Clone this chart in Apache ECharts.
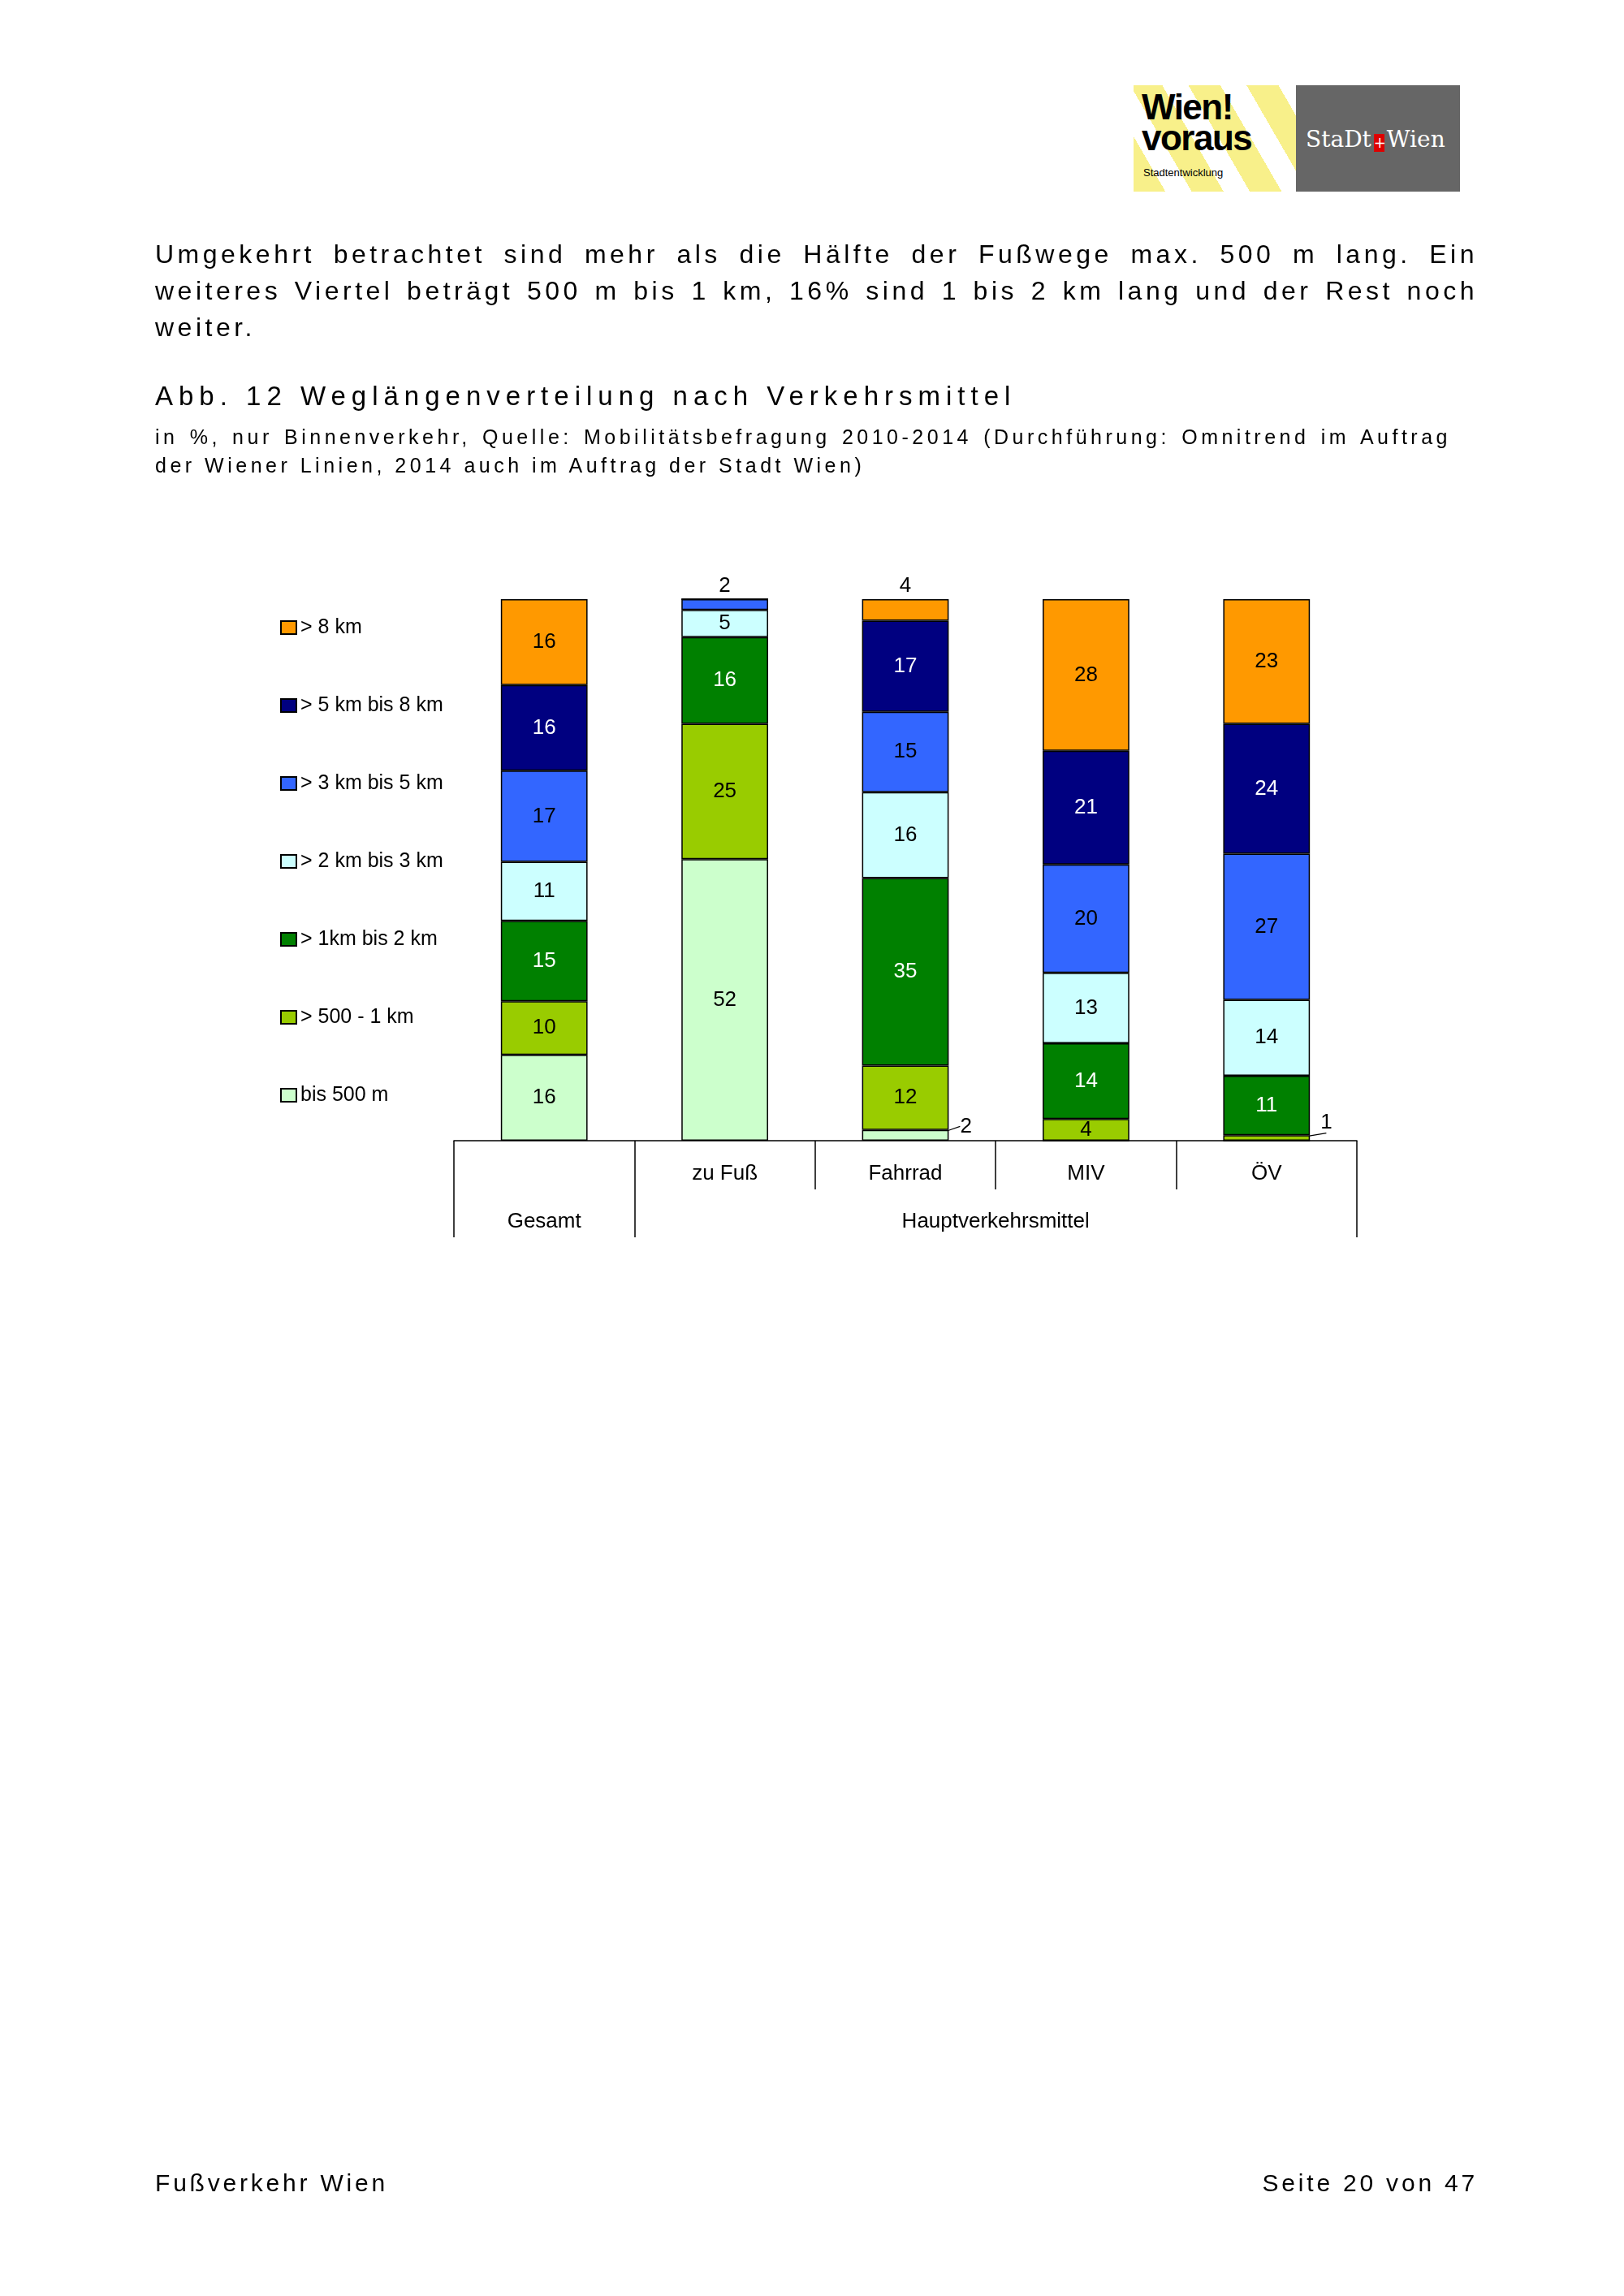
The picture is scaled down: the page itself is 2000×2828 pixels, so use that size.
<!DOCTYPE html>
<html lang="de">
<head>
<meta charset="UTF-8">
<title>Abb. 12 Weglängenverteilung nach Verkehrsmittel</title>
<script src="https://cdn.jsdelivr.net/npm/echarts@6/dist/echarts.min.js"></script>
<style>
  body { margin:0; background:#fff; }
  #page { position:relative; width:2000px; height:2828px; overflow:hidden; font-family:'Liberation Sans', Arial, sans-serif; color:#000; }
  #chart { position:absolute; left:0; top:0; width:2000px; height:2828px; }
  .txt { position:absolute; white-space:nowrap; }
  .just { text-align:justify; text-align-last:justify; }
  #logo1 { position:absolute; left:1396px; top:105px; width:200px; height:131px; overflow:hidden;
           background:repeating-linear-gradient(60deg, #f8f08a 0 34px, #fff 34px 62px); }
  #logo2 { position:absolute; left:1596px; top:105px; width:202px; height:131px; background:#666; }
</style>
</head>
<body>
<div id="page">
  <div id="chart"></div>

  <div id="logo1">
    <div class="txt" style="left:10px;top:8px;font-weight:bold;font-size:44px;line-height:38px;letter-spacing:-1.5px;">Wien!<br>voraus</div>
    <div class="txt" style="left:12px;top:100px;font-size:13px;">Stadtentwicklung</div>
  </div>
  <div id="logo2">
    <div class="txt" style="left:12px;top:50px;font-family:'DejaVu Serif',serif;font-size:28px;color:#fff;">StaDt<span style="display:inline-block;width:13px;height:22px;margin:0 3px;background:#d00;color:#fff;font-size:18px;line-height:22px;text-align:center;vertical-align:-1px;">+</span>Wien</div>
  </div>

  <div class="txt just" style="left:191px;top:291px;width:1629px;font-size:32px;line-height:45px;letter-spacing:4.5px;">Umgekehrt betrachtet sind mehr als die Hälfte der Fußwege max. 500 m lang. Ein</div>
  <div class="txt just" style="left:191px;top:336px;width:1629px;font-size:32px;line-height:45px;letter-spacing:4.5px;">weiteres Viertel beträgt 500 m bis 1 km, 16% sind 1 bis 2 km lang und der Rest noch</div>
  <div class="txt" style="left:191px;top:381px;font-size:32px;line-height:45px;letter-spacing:4.5px;">weiter.</div>

  <div class="txt" style="left:191px;top:467px;font-size:33px;line-height:42px;letter-spacing:7px;">Abb. 12 Weglängenverteilung nach Verkehrsmittel</div>
  <div class="txt just" style="left:191px;top:521px;width:1596px;font-size:25px;line-height:34px;letter-spacing:4.5px;">in %, nur Binnenverkehr, Quelle: Mobilitätsbefragung 2010-2014 (Durchführung: Omnitrend im Auftrag</div>
  <div class="txt" style="left:191px;top:556px;font-size:25px;line-height:34px;letter-spacing:4.5px;">der Wiener Linien, 2014 auch im Auftrag der Stadt Wien)</div>

  <div class="txt" style="left:191px;top:2669px;font-size:30px;line-height:40px;letter-spacing:3.8px;">Fußverkehr Wien</div>
  <div class="txt" style="right:180px;top:2669px;font-size:30px;line-height:40px;letter-spacing:3.8px;">Seite 20 von 47</div>
</div>
<script>
    // Kategorien und Entfernungsklassen
    var categories = ['Gesamt', 'zu Fuß', 'Fahrrad', 'MIV', 'ÖV'];
    var bands = ['bis 500 m', '> 500 - 1 km', '> 1km bis 2 km', '> 2 km bis 3 km',
                 '> 3 km bis 5 km', '> 5 km bis 8 km', '> 8 km'];

    // Werte in %, je Verkehrsmittel
    var bis500m   = [16, 52,  2,  0,  0];
    var m500bis1  = [10, 25, 12,  4,  1];
    var km1bis2   = [15, 16, 35, 14, 11];
    var km2bis3   = [11,  5, 16, 13, 14];
    var km3bis5   = [17,  2, 15, 20, 27];
    var km5bis8   = [16,  0, 17, 21, 24];
    var ueber8km  = [16,  0,  4, 28, 23];

    var values = [bis500m, m500bis1, km1bis2, km2bis3, km3bis5, km5bis8, ueber8km];
    var colors = ['#CCFFCC', '#99CC00', '#008000', '#CCFFFF', '#3366FF', '#000080', '#FF9900'];
    var labelColors = ['#000', '#000', '#fff', '#000', '#000', '#fff', '#000'];

    var FONT = "'Liberation Sans Narrow','Arial Narrow','Liberation Sans',Arial,sans-serif";
    var FS = 26;

    // Summen je Säule -> 100%-Stapel
    var sums = categories.map(function (c, i) {
        return values.reduce(function (s, arr) { return s + arr[i]; }, 0);
    });

    // kleine Segmente: Beschriftung über der Säule bzw. rechts daneben
    var topLabels = {'4_1': true, '6_2': true};
    var sideLabels = {'0_2': [9, -11], '1_4': [8, -19]};

    var series = values.map(function (arr, b) {
        return {
            name: bands[b],
            type: 'bar',
            stack: 'all',
            barWidth: '48%',
            itemStyle: {color: colors[b], borderColor: '#000', borderWidth: 1.5},
            label: {
                show: true,
                position: 'inside',
                color: labelColors[b],
                fontFamily: FONT,
                fontSize: FS,
                formatter: function (p) { return p.data.raw ? String(p.data.raw) : ''; }
            },
            labelLayout: function (p) {
                var s = sideLabels[b + '_' + p.dataIndex];
                return s ? {dx: s[0], dy: s[1]} : {};
            },
            data: arr.map(function (v, i) {
                var key = b + '_' + i;
                var d = {value: v / sums[i] * 100, raw: v};
                if (topLabels[key]) {
                    d.label = {position: 'top', distance: 3, color: '#000'};
                } else if (sideLabels[key]) {
                    d.label = {position: 'right', distance: 5, color: '#000'};
                    d.labelLine = {show: true, lineStyle: {color: '#000', width: 1.2}};
                }
                return d;
            })
        };
    });

    var mychart = echarts.init(document.getElementById('chart'));
    mychart.setOption({
        animation: false,
        legend: {
            orient: 'vertical',
            left: 340,
            top: 753,
            data: bands.slice().reverse(),
            icon: 'rect',
            itemWidth: 19,
            itemHeight: 16,
            itemGap: 66,
            selectedMode: false,
            textStyle: {fontFamily: FONT, fontSize: 25, color: '#000', lineHeight: 30}
        },
        grid: [
            {left: 559, top: 738, width: 1112, height: 667},
            {left: 559, top: 738, width: 222.4, height: 667},
            {left: 781.4, top: 738, width: 889.6, height: 667}
        ],
        xAxis: [
            {
                gridIndex: 0, type: 'category', data: categories,
                axisLine: {lineStyle: {color: '#000', width: 1.5}},
                axisTick: {show: true, length: 60, lineStyle: {color: '#000', width: 1.5}},
                axisLabel: {
                    margin: 28, color: '#000', fontFamily: FONT, fontSize: FS,
                    formatter: function (v, i) { return i === 0 ? '' : v; }
                }
            },
            {
                gridIndex: 1, type: 'category', data: ['Gesamt'],
                axisLine: {show: false},
                axisTick: {show: true, length: 119, lineStyle: {color: '#000', width: 1.5}},
                axisLabel: {margin: 87, color: '#000', fontFamily: FONT, fontSize: FS}
            },
            {
                gridIndex: 2, type: 'category', data: ['Hauptverkehrsmittel'],
                axisLine: {show: false},
                axisTick: {show: true, length: 119, lineStyle: {color: '#000', width: 1.5}},
                axisLabel: {margin: 87, color: '#000', fontFamily: FONT, fontSize: FS}
            }
        ],
        yAxis: [0, 1, 2].map(function (g) {
            return {gridIndex: g, type: 'value', min: 0, max: 100, show: false, splitLine: {show: false}};
        }),
        series: series
    });
</script>
</body>
</html>
